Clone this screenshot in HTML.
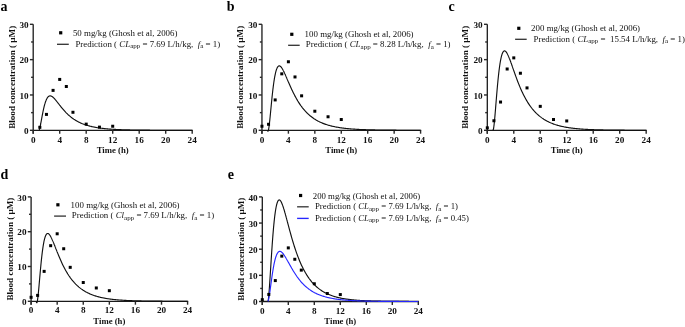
<!DOCTYPE html>
<html><head><meta charset="utf-8"><style>
html,body{margin:0;padding:0;background:#fff;}
body{width:685px;height:327px;overflow:hidden;}
svg{display:block;will-change:transform;}
text{font-family:"Liberation Serif", serif;fill:#111;white-space:pre;}
.tk{font-size:9.2px;font-weight:bold;}
.tt{font-size:8.7px;font-weight:bold;}
.yl{font-size:9.1px;font-weight:bold;}
.pl{font-size:14px;font-weight:bold;fill:#000;}
.lg{font-size:8.9px;}
.lge{font-size:8.75px;}
.sub{font-size:7px;}
</style></head><body>
<svg width="685" height="327" viewBox="0 0 685 327">
<rect width="685" height="327" fill="#fff"/>
<path d="M33.20 24.31 V133.70 M32.60 130.30 H192.80" stroke="#1a1a1a" stroke-width="1.3" fill="none"/>
<path d="M29.90 130.30 H33.20" stroke="#2a2a2a" stroke-width="1.4"/>
<text x="28.60" y="133.90" text-anchor="end" class="tk">0</text>
<path d="M31.10 112.64 H33.20" stroke="#2a2a2a" stroke-width="1.4"/>
<path d="M29.90 94.97 H33.20" stroke="#2a2a2a" stroke-width="1.4"/>
<text x="28.60" y="98.57" text-anchor="end" class="tk">10</text>
<path d="M31.10 77.31 H33.20" stroke="#2a2a2a" stroke-width="1.4"/>
<path d="M29.90 59.64 H33.20" stroke="#2a2a2a" stroke-width="1.4"/>
<text x="28.60" y="63.24" text-anchor="end" class="tk">20</text>
<path d="M31.10 41.98 H33.20" stroke="#2a2a2a" stroke-width="1.4"/>
<path d="M29.90 24.31 H33.20" stroke="#2a2a2a" stroke-width="1.4"/>
<text x="28.60" y="27.91" text-anchor="end" class="tk">30</text>
<path d="M33.20 130.30 V133.70" stroke="#2a2a2a" stroke-width="1.4"/>
<text x="33.20" y="142.80" text-anchor="middle" class="tk">0</text>
<path d="M59.70 130.30 V133.70" stroke="#2a2a2a" stroke-width="1.4"/>
<text x="59.70" y="142.80" text-anchor="middle" class="tk">4</text>
<path d="M86.20 130.30 V133.70" stroke="#2a2a2a" stroke-width="1.4"/>
<text x="86.20" y="142.80" text-anchor="middle" class="tk">8</text>
<path d="M112.70 130.30 V133.70" stroke="#2a2a2a" stroke-width="1.4"/>
<text x="112.70" y="142.80" text-anchor="middle" class="tk">12</text>
<path d="M139.20 130.30 V133.70" stroke="#2a2a2a" stroke-width="1.4"/>
<text x="139.20" y="142.80" text-anchor="middle" class="tk">16</text>
<path d="M165.70 130.30 V133.70" stroke="#2a2a2a" stroke-width="1.4"/>
<text x="165.70" y="142.80" text-anchor="middle" class="tk">20</text>
<path d="M192.20 130.30 V133.70" stroke="#2a2a2a" stroke-width="1.4"/>
<text x="192.20" y="142.80" text-anchor="middle" class="tk">24</text>
<text x="112.70" y="153.40" text-anchor="middle" class="tt">Time (h)</text>
<text transform="translate(14.60 77.31) rotate(-90)" text-anchor="middle" class="yl">Blood concentration ( µM)</text>
<text x="0.4" y="11.1" class="pl">a</text>
<polyline points="39.10,130.30 39.20,130.04 39.31,129.76 39.41,129.44 39.52,129.10 39.62,128.73 39.72,128.33 39.83,127.92 39.93,127.48 40.03,127.03 40.14,126.56 40.24,126.08 40.34,125.58 40.45,125.07 40.55,124.55 40.65,124.02 40.76,123.49 40.86,122.94 40.96,122.40 41.07,121.84 41.17,121.29 41.27,120.73 41.38,120.17 41.48,119.60 41.59,119.04 41.69,118.48 41.79,117.92 41.90,117.36 42.00,116.80 42.10,116.25 42.21,115.70 42.31,115.16 42.41,114.62 42.52,114.08 42.62,113.55 42.72,113.02 42.83,112.50 42.93,111.99 43.03,111.49 43.14,110.99 43.24,110.50 43.35,110.01 43.45,109.54 43.55,109.07 43.66,108.61 43.76,108.15 43.86,107.71 43.97,107.27 44.07,106.85 44.17,106.43 44.28,106.02 44.38,105.62 44.48,105.23 44.59,104.84 44.69,104.47 44.79,104.10 44.90,103.75 45.00,103.40 45.10,103.06 45.21,102.73 45.31,102.41 45.42,102.10 45.52,101.79 45.62,101.50 45.73,101.21 45.83,100.93 45.93,100.67 46.04,100.41 46.14,100.15 46.24,99.91 46.35,99.67 46.45,99.45 46.55,99.23 46.66,99.02 46.76,98.81 46.86,98.62 46.97,98.43 47.07,98.25 47.18,98.08 47.28,97.92 47.38,97.76 47.49,97.61 47.59,97.47 47.69,97.33 47.80,97.20 47.90,97.08 48.00,96.96 48.11,96.85 48.21,96.75 48.31,96.65 48.42,96.56 48.52,96.48 48.62,96.40 48.73,96.33 48.83,96.27 48.93,96.21 49.04,96.15 49.14,96.10 49.25,96.06 49.35,96.02 49.45,95.99 49.56,95.96 49.66,95.93 49.76,95.92 49.87,95.90 49.97,95.89 50.07,95.89 50.18,95.89 50.28,95.89 50.38,95.90 50.49,95.91 50.59,95.93 50.69,95.95 50.80,95.98 50.90,96.01 51.00,96.04 51.11,96.07 51.21,96.11 51.32,96.16 51.42,96.20 51.52,96.25 51.63,96.30 51.73,96.36 51.83,96.42 51.94,96.48 52.04,96.54 52.14,96.61 52.25,96.68 52.35,96.75 52.45,96.83 52.56,96.90 52.66,96.98 52.76,97.07 52.87,97.15 52.97,97.24 53.08,97.32 53.18,97.42 53.28,97.51 53.39,97.60 53.49,97.70 53.59,97.80 53.70,97.90 53.80,98.00 53.90,98.10 54.01,98.21 54.11,98.31 54.21,98.42 54.32,98.53 54.42,98.64 54.52,98.75 54.63,98.87 54.73,98.98 54.83,99.10 54.94,99.21 55.04,99.33 55.15,99.45 55.25,99.57 55.35,99.69 55.46,99.81 55.56,99.94 55.66,100.06 55.77,100.18 55.87,100.31 55.97,100.43 56.08,100.56 56.18,100.69 56.28,100.81 56.39,100.94 56.49,101.07 56.59,101.20 56.70,101.33 56.80,101.46 56.91,101.59 57.01,101.72 57.11,101.85 57.22,101.98 57.32,102.12 57.42,102.25 57.53,102.38 57.63,102.51 57.73,102.65 57.84,102.78 57.94,102.91 58.04,103.05 58.15,103.18 58.25,103.31 58.35,103.45 58.46,103.58 58.56,103.71 58.66,103.85 58.77,103.98 58.87,104.11 58.98,104.25 59.08,104.38 59.18,104.51 59.29,104.65 59.39,104.78 59.49,104.91 59.60,105.04 59.70,105.18 59.83,105.35 60.50,106.19 61.16,107.02 61.83,107.84 62.49,108.64 63.16,109.43 63.82,110.19 64.49,110.94 65.15,111.66 65.82,112.36 66.48,113.04 67.15,113.70 67.81,114.34 68.48,114.95 69.14,115.55 69.81,116.12 70.48,116.68 71.14,117.21 71.81,117.72 72.47,118.22 73.14,118.69 73.80,119.15 74.47,119.59 75.13,120.01 75.80,120.42 76.46,120.81 77.13,121.19 77.79,121.55 78.46,121.90 79.12,122.23 79.79,122.56 80.45,122.86 81.12,123.16 81.78,123.45 82.45,123.72 83.11,123.98 83.78,124.23 84.44,124.48 85.11,124.71 85.77,124.93 86.44,125.15 87.10,125.35 87.77,125.55 88.43,125.74 89.10,125.92 89.76,126.10 90.43,126.26 91.10,126.42 91.76,126.58 92.43,126.73 93.09,126.87 93.76,127.01 94.42,127.14 95.09,127.27 95.75,127.39 96.42,127.50 97.08,127.62 97.75,127.72 98.41,127.83 99.08,127.92 99.74,128.02 100.41,128.11 101.07,128.20 101.74,128.28 102.40,128.36 103.07,128.44 103.73,128.51 104.40,128.59 105.06,128.65 105.73,128.72 106.39,128.78 107.06,128.84 107.72,128.90 108.39,128.96 109.05,129.01 109.72,129.06 110.38,129.11 111.05,129.16 111.72,129.21 112.38,129.25 113.05,129.29 113.71,129.33 114.38,129.37 115.04,129.41 115.71,129.44 116.37,129.48 117.04,129.51 117.70,129.54 118.37,129.57 119.03,129.60 119.70,129.63 120.36,129.66 121.03,129.68 121.69,129.71 122.36,129.73 123.02,129.75 123.69,129.77 124.35,129.80 125.02,129.82 125.68,129.84 126.35,129.85 127.01,129.87 127.68,129.89 128.34,129.91 129.01,129.92 129.67,129.94 130.34,129.95 131.00,129.96 131.67,129.98 132.34,129.99 133.00,130.00 133.67,130.02 134.33,130.03 135.00,130.04 135.66,130.05 136.33,130.06 136.99,130.07 137.66,130.08 138.32,130.09 138.99,130.09 139.65,130.10 140.32,130.11 140.98,130.12 141.65,130.13 142.31,130.13 142.98,130.14 143.64,130.15 144.31,130.15 144.97,130.16 145.64,130.16 146.30,130.17 146.97,130.17 147.63,130.18 148.30,130.18 148.96,130.19 149.63,130.19 150.29,130.20 150.96,130.20 151.63,130.21 152.29,130.21 152.96,130.21 153.62,130.22 154.29,130.22 154.95,130.22 155.62,130.23 156.28,130.23 156.95,130.23 157.61,130.23 158.28,130.24 158.94,130.24 159.61,130.24 160.27,130.24 160.94,130.25 161.60,130.25 162.27,130.25 162.93,130.25 163.60,130.25 164.26,130.26 164.93,130.26 165.59,130.26 166.26,130.26 166.92,130.26 167.59,130.26 168.25,130.27 168.92,130.27 169.58,130.27 170.25,130.27 170.91,130.27 171.58,130.27 172.25,130.27 172.91,130.27 173.58,130.28 174.24,130.28 174.91,130.28 175.57,130.28 176.24,130.28 176.90,130.28 177.57,130.28 178.23,130.28 178.90,130.28 179.56,130.28 180.23,130.28 180.89,130.28 181.56,130.28 182.22,130.29 182.89,130.29 183.55,130.29 184.22,130.29 184.88,130.29 185.55,130.29 186.21,130.29 186.88,130.29 187.54,130.29 188.21,130.29 188.87,130.29 189.54,130.29 190.20,130.29 190.87,130.29 191.53,130.29 192.20,130.29" fill="none" stroke="#111" stroke-width="1.15" stroke-linejoin="round"/>
<rect x="38.33" y="125.80" width="3" height="3" fill="#000"/>
<rect x="44.95" y="112.90" width="3" height="3" fill="#000"/>
<rect x="51.58" y="88.88" width="3" height="3" fill="#000"/>
<rect x="58.20" y="77.92" width="3" height="3" fill="#000"/>
<rect x="64.83" y="84.99" width="3" height="3" fill="#000"/>
<rect x="71.45" y="110.78" width="3" height="3" fill="#000"/>
<rect x="84.70" y="122.62" width="3" height="3" fill="#000"/>
<rect x="97.95" y="125.62" width="3" height="3" fill="#000"/>
<rect x="111.20" y="124.74" width="3" height="3" fill="#000"/>
<rect x="59.10" y="31.20" width="3.2" height="3.2" fill="#000"/>
<text x="72.9" y="35.8" class="lg">50 mg/kg (Ghosh et al, 2006)</text>
<path d="M57 44.3 H68.8" stroke="#3a3a3a" stroke-width="1.35"/>
<text x="75.4" y="46.6" class="lg">Prediction ( <tspan font-style="italic">CL</tspan><tspan class="sub" dy="1.6">app</tspan><tspan dy="-1.6"> = 7.69 L/h/kg,  </tspan><tspan font-style="italic">f</tspan><tspan class="sub" dy="1.6">a</tspan><tspan dy="-1.6"> = 1)</tspan></text>
<path d="M261.95 24.31 V133.70 M261.35 130.30 H421.19" stroke="#1a1a1a" stroke-width="1.3" fill="none"/>
<path d="M258.65 130.30 H261.95" stroke="#2a2a2a" stroke-width="1.4"/>
<text x="257.35" y="133.90" text-anchor="end" class="tk">0</text>
<path d="M259.85 112.64 H261.95" stroke="#2a2a2a" stroke-width="1.4"/>
<path d="M258.65 94.97 H261.95" stroke="#2a2a2a" stroke-width="1.4"/>
<text x="257.35" y="98.57" text-anchor="end" class="tk">10</text>
<path d="M259.85 77.31 H261.95" stroke="#2a2a2a" stroke-width="1.4"/>
<path d="M258.65 59.64 H261.95" stroke="#2a2a2a" stroke-width="1.4"/>
<text x="257.35" y="63.24" text-anchor="end" class="tk">20</text>
<path d="M259.85 41.98 H261.95" stroke="#2a2a2a" stroke-width="1.4"/>
<path d="M258.65 24.31 H261.95" stroke="#2a2a2a" stroke-width="1.4"/>
<text x="257.35" y="27.91" text-anchor="end" class="tk">30</text>
<path d="M261.95 130.30 V133.70" stroke="#2a2a2a" stroke-width="1.4"/>
<text x="261.95" y="142.80" text-anchor="middle" class="tk">0</text>
<path d="M288.39 130.30 V133.70" stroke="#2a2a2a" stroke-width="1.4"/>
<text x="288.39" y="142.80" text-anchor="middle" class="tk">4</text>
<path d="M314.83 130.30 V133.70" stroke="#2a2a2a" stroke-width="1.4"/>
<text x="314.83" y="142.80" text-anchor="middle" class="tk">8</text>
<path d="M341.27 130.30 V133.70" stroke="#2a2a2a" stroke-width="1.4"/>
<text x="341.27" y="142.80" text-anchor="middle" class="tk">12</text>
<path d="M367.71 130.30 V133.70" stroke="#2a2a2a" stroke-width="1.4"/>
<text x="367.71" y="142.80" text-anchor="middle" class="tk">16</text>
<path d="M394.15 130.30 V133.70" stroke="#2a2a2a" stroke-width="1.4"/>
<text x="394.15" y="142.80" text-anchor="middle" class="tk">20</text>
<path d="M420.59 130.30 V133.70" stroke="#2a2a2a" stroke-width="1.4"/>
<text x="420.59" y="142.80" text-anchor="middle" class="tk">24</text>
<text x="341.27" y="153.40" text-anchor="middle" class="tt">Time (h)</text>
<text transform="translate(243.00 77.31) rotate(-90)" text-anchor="middle" class="yl">Blood concentration ( µM)</text>
<text x="226.8" y="11.3" class="pl">b</text>
<polyline points="267.51,130.30 267.62,130.71 267.72,131.00 267.83,131.16 267.93,131.21 268.04,131.16 268.14,131.01 268.25,130.77 268.35,130.44 268.46,130.03 268.56,129.55 268.67,129.01 268.77,128.40 268.88,127.73 268.98,127.01 269.09,126.24 269.19,125.43 269.30,124.57 269.40,123.68 269.51,122.76 269.61,121.81 269.72,120.83 269.82,119.83 269.93,118.81 270.03,117.77 270.14,116.72 270.24,115.66 270.35,114.58 270.45,113.50 270.56,112.41 270.66,111.32 270.77,110.22 270.87,109.13 270.98,108.03 271.08,106.94 271.19,105.85 271.29,104.77 271.39,103.69 271.50,102.63 271.60,101.57 271.71,100.52 271.81,99.48 271.92,98.45 272.02,97.43 272.13,96.43 272.23,95.44 272.34,94.46 272.44,93.50 272.55,92.56 272.65,91.63 272.76,90.71 272.86,89.81 272.97,88.93 273.07,88.07 273.18,87.22 273.28,86.39 273.39,85.58 273.49,84.79 273.60,84.01 273.70,83.25 273.81,82.51 273.91,81.79 274.02,81.08 274.12,80.40 274.23,79.73 274.33,79.08 274.44,78.45 274.54,77.83 274.65,77.23 274.75,76.66 274.86,76.09 274.96,75.55 275.07,75.02 275.17,74.52 275.28,74.02 275.38,73.55 275.49,73.09 275.59,72.65 275.70,72.22 275.80,71.81 275.91,71.42 276.01,71.04 276.12,70.68 276.22,70.33 276.33,70.00 276.43,69.68 276.54,69.38 276.64,69.09 276.75,68.81 276.85,68.55 276.96,68.31 277.06,68.07 277.16,67.86 277.27,67.65 277.37,67.45 277.48,67.27 277.58,67.10 277.69,66.95 277.79,66.80 277.90,66.67 278.00,66.54 278.11,66.43 278.21,66.33 278.32,66.24 278.42,66.16 278.53,66.09 278.63,66.04 278.74,65.99 278.84,65.95 278.95,65.92 279.05,65.90 279.16,65.88 279.26,65.88 279.37,65.88 279.47,65.90 279.58,65.92 279.68,65.95 279.79,65.98 279.89,66.03 280.00,66.08 280.10,66.14 280.21,66.21 280.31,66.28 280.42,66.36 280.52,66.44 280.63,66.53 280.73,66.63 280.84,66.74 280.94,66.85 281.05,66.96 281.15,67.08 281.26,67.21 281.36,67.34 281.47,67.47 281.57,67.61 281.68,67.76 281.78,67.91 281.89,68.06 281.99,68.22 282.10,68.38 282.20,68.55 282.31,68.72 282.41,68.89 282.52,69.07 282.62,69.25 282.72,69.44 282.83,69.62 282.93,69.82 283.04,70.01 283.14,70.21 283.25,70.41 283.35,70.61 283.46,70.81 283.56,71.02 283.67,71.23 283.77,71.44 283.88,71.65 283.98,71.87 284.09,72.09 284.19,72.31 284.30,72.53 284.40,72.75 284.51,72.98 284.61,73.21 284.72,73.44 284.82,73.67 284.93,73.90 285.03,74.13 285.14,74.36 285.24,74.60 285.35,74.83 285.45,75.07 285.56,75.31 285.66,75.55 285.77,75.79 285.87,76.03 285.98,76.27 286.08,76.51 286.19,76.75 286.29,77.00 286.40,77.24 286.50,77.49 286.61,77.73 286.71,77.97 286.82,78.22 286.92,78.47 287.03,78.71 287.13,78.96 287.24,79.20 287.34,79.45 287.45,79.69 287.55,79.94 287.66,80.19 287.76,80.43 287.87,80.68 287.97,80.93 288.08,81.17 288.18,81.42 288.29,81.66 288.39,81.91 288.52,82.22 289.19,83.76 289.85,85.28 290.51,86.78 291.18,88.25 291.84,89.69 292.50,91.10 293.17,92.47 293.83,93.80 294.50,95.10 295.16,96.36 295.82,97.58 296.49,98.76 297.15,99.91 297.81,101.02 298.48,102.09 299.14,103.12 299.80,104.12 300.47,105.09 301.13,106.02 301.80,106.91 302.46,107.78 303.12,108.61 303.79,109.42 304.45,110.19 305.11,110.94 305.78,111.66 306.44,112.35 307.10,113.02 307.77,113.67 308.43,114.29 309.10,114.88 309.76,115.46 310.42,116.01 311.09,116.55 311.75,117.06 312.41,117.55 313.08,118.03 313.74,118.49 314.40,118.93 315.07,119.35 315.73,119.76 316.40,120.15 317.06,120.53 317.72,120.90 318.39,121.25 319.05,121.59 319.71,121.91 320.38,122.23 321.04,122.53 321.71,122.82 322.37,123.10 323.03,123.37 323.70,123.63 324.36,123.88 325.02,124.12 325.69,124.35 326.35,124.57 327.01,124.78 327.68,124.99 328.34,125.19 329.01,125.38 329.67,125.56 330.33,125.74 331.00,125.91 331.66,126.07 332.32,126.23 332.99,126.38 333.65,126.53 334.31,126.67 334.98,126.81 335.64,126.94 336.31,127.06 336.97,127.18 337.63,127.30 338.30,127.41 338.96,127.52 339.62,127.62 340.29,127.72 340.95,127.82 341.61,127.91 342.28,128.00 342.94,128.09 343.61,128.17 344.27,128.25 344.93,128.33 345.60,128.40 346.26,128.47 346.92,128.54 347.59,128.61 348.25,128.67 348.92,128.73 349.58,128.79 350.24,128.85 350.91,128.90 351.57,128.95 352.23,129.00 352.90,129.05 353.56,129.10 354.22,129.14 354.89,129.19 355.55,129.23 356.22,129.27 356.88,129.31 357.54,129.34 358.21,129.38 358.87,129.41 359.53,129.45 360.20,129.48 360.86,129.51 361.52,129.54 362.19,129.57 362.85,129.59 363.52,129.62 364.18,129.65 364.84,129.67 365.51,129.69 366.17,129.72 366.83,129.74 367.50,129.76 368.16,129.78 368.82,129.80 369.49,129.82 370.15,129.84 370.82,129.85 371.48,129.87 372.14,129.89 372.81,129.90 373.47,129.92 374.13,129.93 374.80,129.94 375.46,129.96 376.12,129.97 376.79,129.98 377.45,129.99 378.12,130.01 378.78,130.02 379.44,130.03 380.11,130.04 380.77,130.05 381.43,130.06 382.10,130.07 382.76,130.07 383.43,130.08 384.09,130.09 384.75,130.10 385.42,130.11 386.08,130.11 386.74,130.12 387.41,130.13 388.07,130.13 388.73,130.14 389.40,130.15 390.06,130.15 390.73,130.16 391.39,130.16 392.05,130.17 392.72,130.17 393.38,130.18 394.04,130.18 394.71,130.19 395.37,130.19 396.03,130.19 396.70,130.20 397.36,130.20 398.03,130.21 398.69,130.21 399.35,130.21 400.02,130.22 400.68,130.22 401.34,130.22 402.01,130.23 402.67,130.23 403.33,130.23 404.00,130.23 404.66,130.24 405.33,130.24 405.99,130.24 406.65,130.24 407.32,130.24 407.98,130.25 408.64,130.25 409.31,130.25 409.97,130.25 410.64,130.25 411.30,130.26 411.96,130.26 412.63,130.26 413.29,130.26 413.95,130.26 414.62,130.26 415.28,130.27 415.94,130.27 416.61,130.27 417.27,130.27 417.94,130.27 418.60,130.27 419.26,130.27 419.93,130.27 420.59,130.27" fill="none" stroke="#111" stroke-width="1.15" stroke-linejoin="round"/>
<rect x="260.45" y="124.74" width="3" height="3" fill="#000"/>
<rect x="267.06" y="122.79" width="3" height="3" fill="#000"/>
<rect x="273.67" y="98.42" width="3" height="3" fill="#000"/>
<rect x="280.28" y="72.34" width="3" height="3" fill="#000"/>
<rect x="286.89" y="60.26" width="3" height="3" fill="#000"/>
<rect x="293.50" y="75.45" width="3" height="3" fill="#000"/>
<rect x="300.11" y="94.32" width="3" height="3" fill="#000"/>
<rect x="313.33" y="109.72" width="3" height="3" fill="#000"/>
<rect x="326.55" y="115.27" width="3" height="3" fill="#000"/>
<rect x="339.77" y="118.02" width="3" height="3" fill="#000"/>
<rect x="290.20" y="32.70" width="3.2" height="3.2" fill="#000"/>
<text x="304.6" y="37.1" class="lg">100 mg/kg (Ghosh et al, 2006)</text>
<path d="M288.1 45.3 H299.7" stroke="#3a3a3a" stroke-width="1.35"/>
<text x="305.8" y="47.4" class="lg">Prediction ( <tspan font-style="italic">CL</tspan><tspan class="sub" dy="1.6">app</tspan><tspan dy="-1.6"> = 8.28 L/h/kg,  </tspan><tspan font-style="italic">f</tspan><tspan class="sub" dy="1.6">a</tspan><tspan dy="-1.6"> = 1)</tspan></text>
<path d="M487.30 24.31 V133.70 M486.70 130.30 H646.78" stroke="#1a1a1a" stroke-width="1.3" fill="none"/>
<path d="M484.00 130.30 H487.30" stroke="#2a2a2a" stroke-width="1.4"/>
<text x="482.70" y="133.90" text-anchor="end" class="tk">0</text>
<path d="M485.20 112.64 H487.30" stroke="#2a2a2a" stroke-width="1.4"/>
<path d="M484.00 94.97 H487.30" stroke="#2a2a2a" stroke-width="1.4"/>
<text x="482.70" y="98.57" text-anchor="end" class="tk">10</text>
<path d="M485.20 77.31 H487.30" stroke="#2a2a2a" stroke-width="1.4"/>
<path d="M484.00 59.64 H487.30" stroke="#2a2a2a" stroke-width="1.4"/>
<text x="482.70" y="63.24" text-anchor="end" class="tk">20</text>
<path d="M485.20 41.98 H487.30" stroke="#2a2a2a" stroke-width="1.4"/>
<path d="M484.00 24.31 H487.30" stroke="#2a2a2a" stroke-width="1.4"/>
<text x="482.70" y="27.91" text-anchor="end" class="tk">30</text>
<path d="M487.30 130.30 V133.70" stroke="#2a2a2a" stroke-width="1.4"/>
<text x="487.30" y="142.80" text-anchor="middle" class="tk">0</text>
<path d="M513.78 130.30 V133.70" stroke="#2a2a2a" stroke-width="1.4"/>
<text x="513.78" y="142.80" text-anchor="middle" class="tk">4</text>
<path d="M540.26 130.30 V133.70" stroke="#2a2a2a" stroke-width="1.4"/>
<text x="540.26" y="142.80" text-anchor="middle" class="tk">8</text>
<path d="M566.74 130.30 V133.70" stroke="#2a2a2a" stroke-width="1.4"/>
<text x="566.74" y="142.80" text-anchor="middle" class="tk">12</text>
<path d="M593.22 130.30 V133.70" stroke="#2a2a2a" stroke-width="1.4"/>
<text x="593.22" y="142.80" text-anchor="middle" class="tk">16</text>
<path d="M619.70 130.30 V133.70" stroke="#2a2a2a" stroke-width="1.4"/>
<text x="619.70" y="142.80" text-anchor="middle" class="tk">20</text>
<path d="M646.18 130.30 V133.70" stroke="#2a2a2a" stroke-width="1.4"/>
<text x="646.18" y="142.80" text-anchor="middle" class="tk">24</text>
<text x="566.74" y="153.40" text-anchor="middle" class="tt">Time (h)</text>
<text transform="translate(468.20 77.31) rotate(-90)" text-anchor="middle" class="yl">Blood concentration ( µM)</text>
<text x="448.5" y="11.3" class="pl">c</text>
<polyline points="493.07,130.30 493.17,130.10 493.28,129.79 493.38,129.40 493.48,128.91 493.59,128.34 493.69,127.70 493.80,126.99 493.90,126.21 494.00,125.37 494.11,124.48 494.21,123.54 494.32,122.55 494.42,121.52 494.53,120.45 494.63,119.35 494.73,118.21 494.84,117.05 494.94,115.87 495.05,114.66 495.15,113.44 495.25,112.20 495.36,110.95 495.46,109.68 495.57,108.41 495.67,107.13 495.77,105.85 495.88,104.57 495.98,103.28 496.09,102.00 496.19,100.72 496.29,99.45 496.40,98.18 496.50,96.92 496.61,95.66 496.71,94.42 496.81,93.18 496.92,91.96 497.02,90.75 497.13,89.56 497.23,88.38 497.34,87.21 497.44,86.06 497.54,84.92 497.65,83.80 497.75,82.70 497.86,81.62 497.96,80.56 498.06,79.51 498.17,78.48 498.27,77.47 498.38,76.49 498.48,75.52 498.58,74.57 498.69,73.64 498.79,72.73 498.90,71.84 499.00,70.97 499.10,70.13 499.21,69.30 499.31,68.49 499.42,67.71 499.52,66.94 499.63,66.20 499.73,65.47 499.83,64.77 499.94,64.08 500.04,63.42 500.15,62.77 500.25,62.15 500.35,61.54 500.46,60.96 500.56,60.39 500.67,59.84 500.77,59.31 500.87,58.80 500.98,58.31 501.08,57.84 501.19,57.38 501.29,56.95 501.39,56.53 501.50,56.12 501.60,55.74 501.71,55.37 501.81,55.02 501.91,54.68 502.02,54.36 502.12,54.06 502.23,53.77 502.33,53.50 502.44,53.24 502.54,53.00 502.64,52.77 502.75,52.56 502.85,52.36 502.96,52.18 503.06,52.01 503.16,51.85 503.27,51.70 503.37,51.57 503.48,51.45 503.58,51.34 503.68,51.25 503.79,51.17 503.89,51.09 504.00,51.03 504.10,50.98 504.20,50.95 504.31,50.92 504.41,50.90 504.52,50.90 504.62,50.90 504.73,50.91 504.83,50.93 504.93,50.96 505.04,51.01 505.14,51.05 505.25,51.11 505.35,51.18 505.45,51.25 505.56,51.34 505.66,51.43 505.77,51.53 505.87,51.63 505.97,51.74 506.08,51.86 506.18,51.99 506.29,52.13 506.39,52.27 506.49,52.41 506.60,52.56 506.70,52.72 506.81,52.89 506.91,53.06 507.01,53.23 507.12,53.41 507.22,53.60 507.33,53.79 507.43,53.98 507.54,54.19 507.64,54.39 507.74,54.60 507.85,54.81 507.95,55.03 508.06,55.25 508.16,55.48 508.26,55.71 508.37,55.94 508.47,56.18 508.58,56.42 508.68,56.66 508.78,56.91 508.89,57.15 508.99,57.41 509.10,57.66 509.20,57.92 509.30,58.18 509.41,58.44 509.51,58.71 509.62,58.97 509.72,59.24 509.82,59.51 509.93,59.79 510.03,60.06 510.14,60.34 510.24,60.62 510.35,60.90 510.45,61.18 510.55,61.46 510.66,61.75 510.76,62.03 510.87,62.32 510.97,62.61 511.07,62.90 511.18,63.19 511.28,63.48 511.39,63.78 511.49,64.07 511.59,64.36 511.70,64.66 511.80,64.95 511.91,65.25 512.01,65.55 512.11,65.84 512.22,66.14 512.32,66.44 512.43,66.74 512.53,67.03 512.64,67.33 512.74,67.63 512.84,67.93 512.95,68.23 513.05,68.53 513.16,68.83 513.26,69.13 513.36,69.42 513.47,69.72 513.57,70.02 513.68,70.32 513.78,70.62 513.91,71.00 514.58,72.89 515.24,74.76 515.91,76.60 516.57,78.42 517.24,80.19 517.90,81.93 518.57,83.62 519.23,85.27 519.89,86.87 520.56,88.43 521.22,89.94 521.89,91.41 522.55,92.82 523.22,94.20 523.88,95.52 524.55,96.80 525.21,98.04 525.88,99.24 526.54,100.39 527.21,101.50 527.87,102.58 528.53,103.61 529.20,104.61 529.86,105.57 530.53,106.50 531.19,107.39 531.86,108.25 532.52,109.08 533.19,109.87 533.85,110.64 534.52,111.38 535.18,112.09 535.85,112.78 536.51,113.44 537.18,114.07 537.84,114.68 538.50,115.27 539.17,115.84 539.83,116.38 540.50,116.90 541.16,117.41 541.83,117.90 542.49,118.36 543.16,118.81 543.82,119.25 544.49,119.66 545.15,120.06 545.82,120.45 546.48,120.82 547.15,121.18 547.81,121.52 548.47,121.85 549.14,122.17 549.80,122.48 550.47,122.77 551.13,123.06 551.80,123.33 552.46,123.59 553.13,123.84 553.79,124.09 554.46,124.32 555.12,124.55 555.79,124.76 556.45,124.97 557.12,125.17 557.78,125.37 558.44,125.55 559.11,125.73 559.77,125.90 560.44,126.07 561.10,126.23 561.77,126.38 562.43,126.53 563.10,126.67 563.76,126.81 564.43,126.94 565.09,127.07 565.76,127.19 566.42,127.31 567.09,127.42 567.75,127.53 568.41,127.63 569.08,127.73 569.74,127.83 570.41,127.92 571.07,128.01 571.74,128.10 572.40,128.18 573.07,128.26 573.73,128.34 574.40,128.41 575.06,128.48 575.73,128.55 576.39,128.62 577.06,128.68 577.72,128.74 578.38,128.80 579.05,128.86 579.71,128.91 580.38,128.96 581.04,129.02 581.71,129.06 582.37,129.11 583.04,129.16 583.70,129.20 584.37,129.24 585.03,129.28 585.70,129.32 586.36,129.36 587.03,129.39 587.69,129.43 588.35,129.46 589.02,129.49 589.68,129.52 590.35,129.55 591.01,129.58 591.68,129.61 592.34,129.63 593.01,129.66 593.67,129.68 594.34,129.70 595.00,129.73 595.67,129.75 596.33,129.77 597.00,129.79 597.66,129.81 598.32,129.83 598.99,129.84 599.65,129.86 600.32,129.88 600.98,129.89 601.65,129.91 602.31,129.92 602.98,129.94 603.64,129.95 604.31,129.97 604.97,129.98 605.64,129.99 606.30,130.00 606.96,130.01 607.63,130.02 608.29,130.03 608.96,130.04 609.62,130.05 610.29,130.06 610.95,130.07 611.62,130.08 612.28,130.09 612.95,130.10 613.61,130.10 614.28,130.11 614.94,130.12 615.61,130.13 616.27,130.13 616.93,130.14 617.60,130.14 618.26,130.15 618.93,130.16 619.59,130.16 620.26,130.17 620.92,130.17 621.59,130.18 622.25,130.18 622.92,130.19 623.58,130.19 624.25,130.19 624.91,130.20 625.58,130.20 626.24,130.21 626.90,130.21 627.57,130.21 628.23,130.22 628.90,130.22 629.56,130.22 630.23,130.23 630.89,130.23 631.56,130.23 632.22,130.23 632.89,130.24 633.55,130.24 634.22,130.24 634.88,130.24 635.55,130.25 636.21,130.25 636.87,130.25 637.54,130.25 638.20,130.25 638.87,130.25 639.53,130.26 640.20,130.26 640.86,130.26 641.53,130.26 642.19,130.26 642.86,130.26 643.52,130.27 644.19,130.27 644.85,130.27 645.52,130.27 646.18,130.27" fill="none" stroke="#111" stroke-width="1.15" stroke-linejoin="round"/>
<rect x="485.80" y="126.33" width="3" height="3" fill="#000"/>
<rect x="492.42" y="119.26" width="3" height="3" fill="#000"/>
<rect x="499.04" y="100.54" width="3" height="3" fill="#000"/>
<rect x="505.66" y="67.50" width="3" height="3" fill="#000"/>
<rect x="512.28" y="56.37" width="3" height="3" fill="#000"/>
<rect x="518.90" y="71.74" width="3" height="3" fill="#000"/>
<rect x="525.52" y="86.40" width="3" height="3" fill="#000"/>
<rect x="538.76" y="104.85" width="3" height="3" fill="#000"/>
<rect x="552.00" y="118.02" width="3" height="3" fill="#000"/>
<rect x="565.24" y="119.44" width="3" height="3" fill="#000"/>
<rect x="517.20" y="26.70" width="3.2" height="3.2" fill="#000"/>
<text x="531.1" y="31.3" class="lg">200 mg/kg (Ghosh et al, 2006)</text>
<path d="M515.1 39.3 H526.7" stroke="#3a3a3a" stroke-width="1.35"/>
<text x="533.5" y="41.6" class="lg">Prediction ( <tspan font-style="italic">CL</tspan><tspan class="sub" dy="1.6">app</tspan><tspan dy="-1.6"> =  15.54 L/h/kg,  </tspan><tspan font-style="italic">f</tspan><tspan class="sub" dy="1.6">a</tspan><tspan dy="-1.6"> = 1)</tspan></text>
<path d="M31.10 196.90 V304.70 M30.50 301.30 H188.18" stroke="#1a1a1a" stroke-width="1.3" fill="none"/>
<path d="M27.80 301.30 H31.10" stroke="#2a2a2a" stroke-width="1.4"/>
<text x="26.50" y="304.90" text-anchor="end" class="tk">0</text>
<path d="M29.00 283.90 H31.10" stroke="#2a2a2a" stroke-width="1.4"/>
<path d="M27.80 266.50 H31.10" stroke="#2a2a2a" stroke-width="1.4"/>
<text x="26.50" y="270.10" text-anchor="end" class="tk">10</text>
<path d="M29.00 249.10 H31.10" stroke="#2a2a2a" stroke-width="1.4"/>
<path d="M27.80 231.70 H31.10" stroke="#2a2a2a" stroke-width="1.4"/>
<text x="26.50" y="235.30" text-anchor="end" class="tk">20</text>
<path d="M29.00 214.30 H31.10" stroke="#2a2a2a" stroke-width="1.4"/>
<path d="M27.80 196.90 H31.10" stroke="#2a2a2a" stroke-width="1.4"/>
<text x="26.50" y="200.50" text-anchor="end" class="tk">30</text>
<path d="M31.10 301.30 V304.70" stroke="#2a2a2a" stroke-width="1.4"/>
<text x="31.10" y="313.30" text-anchor="middle" class="tk">0</text>
<path d="M57.18 301.30 V304.70" stroke="#2a2a2a" stroke-width="1.4"/>
<text x="57.18" y="313.30" text-anchor="middle" class="tk">4</text>
<path d="M83.26 301.30 V304.70" stroke="#2a2a2a" stroke-width="1.4"/>
<text x="83.26" y="313.30" text-anchor="middle" class="tk">8</text>
<path d="M109.34 301.30 V304.70" stroke="#2a2a2a" stroke-width="1.4"/>
<text x="109.34" y="313.30" text-anchor="middle" class="tk">12</text>
<path d="M135.42 301.30 V304.70" stroke="#2a2a2a" stroke-width="1.4"/>
<text x="135.42" y="313.30" text-anchor="middle" class="tk">16</text>
<path d="M161.50 301.30 V304.70" stroke="#2a2a2a" stroke-width="1.4"/>
<text x="161.50" y="313.30" text-anchor="middle" class="tk">20</text>
<path d="M187.58 301.30 V304.70" stroke="#2a2a2a" stroke-width="1.4"/>
<text x="187.58" y="313.30" text-anchor="middle" class="tk">24</text>
<text x="109.34" y="323.70" text-anchor="middle" class="tt">Time (h)</text>
<text transform="translate(13.00 249.10) rotate(-90)" text-anchor="middle" class="yl">Blood concentration ( µM)</text>
<text x="0.5" y="179.4" class="pl">d</text>
<polyline points="36.26,301.30 36.36,301.89 36.47,302.32 36.57,302.61 36.68,302.77 36.78,302.79 36.89,302.70 36.99,302.50 37.10,302.19 37.20,301.80 37.31,301.31 37.41,300.75 37.52,300.10 37.62,299.40 37.73,298.63 37.83,297.80 37.94,296.92 38.05,295.99 38.15,295.02 38.26,294.01 38.36,292.97 38.47,291.89 38.57,290.79 38.68,289.67 38.78,288.53 38.89,287.37 38.99,286.20 39.10,285.01 39.20,283.82 39.31,282.62 39.41,281.42 39.52,280.21 39.62,279.00 39.73,277.80 39.83,276.60 39.94,275.40 40.04,274.22 40.15,273.04 40.25,271.86 40.36,270.70 40.46,269.56 40.57,268.42 40.67,267.30 40.78,266.19 40.88,265.10 40.99,264.02 41.09,262.96 41.20,261.91 41.30,260.89 41.41,259.88 41.51,258.89 41.62,257.92 41.73,256.97 41.83,256.04 41.94,255.13 42.04,254.24 42.15,253.37 42.25,252.52 42.36,251.69 42.46,250.88 42.57,250.10 42.67,249.33 42.78,248.58 42.88,247.86 42.99,247.15 43.09,246.46 43.20,245.80 43.30,245.16 43.41,244.53 43.51,243.93 43.62,243.34 43.72,242.78 43.83,242.23 43.93,241.70 44.04,241.20 44.14,240.71 44.25,240.24 44.35,239.79 44.46,239.35 44.56,238.94 44.67,238.54 44.77,238.16 44.88,237.80 44.98,237.45 45.09,237.12 45.19,236.81 45.30,236.51 45.40,236.23 45.51,235.96 45.62,235.71 45.72,235.48 45.83,235.25 45.93,235.05 46.04,234.85 46.14,234.68 46.25,234.51 46.35,234.36 46.46,234.22 46.56,234.09 46.67,233.98 46.77,233.88 46.88,233.79 46.98,233.71 47.09,233.64 47.19,233.59 47.30,233.54 47.40,233.51 47.51,233.48 47.61,233.47 47.72,233.46 47.82,233.47 47.93,233.49 48.03,233.51 48.14,233.54 48.24,233.58 48.35,233.63 48.45,233.69 48.56,233.76 48.66,233.83 48.77,233.92 48.87,234.01 48.98,234.10 49.08,234.20 49.19,234.31 49.29,234.43 49.40,234.55 49.51,234.68 49.61,234.82 49.72,234.96 49.82,235.11 49.93,235.26 50.03,235.42 50.14,235.58 50.24,235.75 50.35,235.92 50.45,236.09 50.56,236.28 50.66,236.46 50.77,236.65 50.87,236.85 50.98,237.04 51.08,237.25 51.19,237.45 51.29,237.66 51.40,237.87 51.50,238.09 51.61,238.30 51.71,238.53 51.82,238.75 51.92,238.98 52.03,239.21 52.13,239.44 52.24,239.67 52.34,239.91 52.45,240.15 52.55,240.39 52.66,240.63 52.76,240.88 52.87,241.13 52.97,241.37 53.08,241.62 53.18,241.88 53.29,242.13 53.40,242.38 53.50,242.64 53.61,242.90 53.71,243.15 53.82,243.41 53.92,243.67 54.03,243.94 54.13,244.20 54.24,244.46 54.34,244.72 54.45,244.99 54.55,245.25 54.66,245.52 54.76,245.78 54.87,246.05 54.97,246.32 55.08,246.58 55.18,246.85 55.29,247.12 55.39,247.39 55.50,247.66 55.60,247.92 55.71,248.19 55.81,248.46 55.92,248.73 56.02,249.00 56.13,249.26 56.23,249.53 56.34,249.80 56.44,250.06 56.55,250.33 56.65,250.60 56.76,250.86 56.86,251.13 56.97,251.40 57.07,251.66 57.18,251.92 57.31,252.25 57.97,253.88 58.62,255.49 59.27,257.06 59.93,258.60 60.58,260.10 61.24,261.57 61.89,262.99 62.55,264.38 63.20,265.72 63.86,267.02 64.51,268.28 65.17,269.50 65.82,270.67 66.48,271.81 67.13,272.91 67.78,273.97 68.44,274.99 69.09,275.98 69.75,276.93 70.40,277.84 71.06,278.72 71.71,279.57 72.37,280.39 73.02,281.18 73.68,281.94 74.33,282.67 74.99,283.37 75.64,284.05 76.29,284.70 76.95,285.33 77.60,285.94 78.26,286.52 78.91,287.08 79.57,287.61 80.22,288.13 80.88,288.63 81.53,289.11 82.19,289.57 82.84,290.02 83.50,290.44 84.15,290.86 84.80,291.25 85.46,291.63 86.11,292.00 86.77,292.35 87.42,292.69 88.08,293.02 88.73,293.33 89.39,293.63 90.04,293.92 90.70,294.20 91.35,294.47 92.01,294.73 92.66,294.98 93.31,295.22 93.97,295.45 94.62,295.67 95.28,295.88 95.93,296.09 96.59,296.29 97.24,296.48 97.90,296.66 98.55,296.83 99.21,297.00 99.86,297.17 100.52,297.32 101.17,297.47 101.82,297.62 102.48,297.76 103.13,297.89 103.79,298.02 104.44,298.15 105.10,298.27 105.75,298.38 106.41,298.49 107.06,298.60 107.72,298.70 108.37,298.80 109.03,298.89 109.68,298.98 110.33,299.07 110.99,299.16 111.64,299.24 112.30,299.32 112.95,299.39 113.61,299.46 114.26,299.53 114.92,299.60 115.57,299.66 116.23,299.73 116.88,299.79 117.54,299.84 118.19,299.90 118.84,299.95 119.50,300.00 120.15,300.05 120.81,300.10 121.46,300.14 122.12,300.19 122.77,300.23 123.43,300.27 124.08,300.31 124.74,300.35 125.39,300.38 126.05,300.42 126.70,300.45 127.35,300.48 128.01,300.51 128.66,300.54 129.32,300.57 129.97,300.60 130.63,300.63 131.28,300.65 131.94,300.68 132.59,300.70 133.25,300.72 133.90,300.75 134.56,300.77 135.21,300.79 135.86,300.81 136.52,300.82 137.17,300.84 137.83,300.86 138.48,300.88 139.14,300.89 139.79,300.91 140.45,300.92 141.10,300.94 141.76,300.95 142.41,300.96 143.07,300.98 143.72,300.99 144.38,301.00 145.03,301.01 145.68,301.02 146.34,301.03 146.99,301.04 147.65,301.05 148.30,301.06 148.96,301.07 149.61,301.08 150.27,301.09 150.92,301.10 151.58,301.10 152.23,301.11 152.89,301.12 153.54,301.13 154.19,301.13 154.85,301.14 155.50,301.14 156.16,301.15 156.81,301.16 157.47,301.16 158.12,301.17 158.78,301.17 159.43,301.18 160.09,301.18 160.74,301.19 161.40,301.19 162.05,301.19 162.70,301.20 163.36,301.20 164.01,301.21 164.67,301.21 165.32,301.21 165.98,301.22 166.63,301.22 167.29,301.22 167.94,301.23 168.60,301.23 169.25,301.23 169.91,301.23 170.56,301.24 171.21,301.24 171.87,301.24 172.52,301.24 173.18,301.25 173.83,301.25 174.49,301.25 175.14,301.25 175.80,301.25 176.45,301.25 177.11,301.26 177.76,301.26 178.42,301.26 179.07,301.26 179.72,301.26 180.38,301.26 181.03,301.27 181.69,301.27 182.34,301.27 183.00,301.27 183.65,301.27 184.31,301.27 184.96,301.27 185.62,301.27 186.27,301.27 186.93,301.28 187.58,301.28" fill="none" stroke="#111" stroke-width="1.15" stroke-linejoin="round"/>
<rect x="29.60" y="295.80" width="3" height="3" fill="#000"/>
<rect x="36.12" y="293.88" width="3" height="3" fill="#000"/>
<rect x="42.64" y="269.87" width="3" height="3" fill="#000"/>
<rect x="49.16" y="244.19" width="3" height="3" fill="#000"/>
<rect x="55.68" y="232.29" width="3" height="3" fill="#000"/>
<rect x="62.20" y="247.25" width="3" height="3" fill="#000"/>
<rect x="68.72" y="265.84" width="3" height="3" fill="#000"/>
<rect x="81.76" y="281.01" width="3" height="3" fill="#000"/>
<rect x="94.80" y="286.47" width="3" height="3" fill="#000"/>
<rect x="107.84" y="289.19" width="3" height="3" fill="#000"/>
<rect x="56.30" y="203.20" width="3.2" height="3.2" fill="#000"/>
<text x="70.6" y="207.8" class="lg">100 mg/kg (Ghosh et al, 2006)</text>
<path d="M54.1 216.1 H66" stroke="#3a3a3a" stroke-width="1.35"/>
<text x="71.8" y="217.9" class="lg">Prediction ( <tspan font-style="italic">Cl</tspan><tspan class="sub" dy="1.6">app</tspan><tspan dy="-1.6"> = 7.69 L/h/kg,  </tspan><tspan font-style="italic">f</tspan><tspan class="sub" dy="1.6">a</tspan><tspan dy="-1.6"> = 1)</tspan></text>
<path d="M262.30 196.90 V304.90 M261.70 301.50 H418.90" stroke="#1a1a1a" stroke-width="1.3" fill="none"/>
<path d="M259.00 301.50 H262.30" stroke="#2a2a2a" stroke-width="1.4"/>
<text x="257.70" y="305.10" text-anchor="end" class="tk">0</text>
<path d="M260.20 288.43 H262.30" stroke="#2a2a2a" stroke-width="1.4"/>
<path d="M259.00 275.35 H262.30" stroke="#2a2a2a" stroke-width="1.4"/>
<text x="257.70" y="278.95" text-anchor="end" class="tk">10</text>
<path d="M260.20 262.27 H262.30" stroke="#2a2a2a" stroke-width="1.4"/>
<path d="M259.00 249.20 H262.30" stroke="#2a2a2a" stroke-width="1.4"/>
<text x="257.70" y="252.80" text-anchor="end" class="tk">20</text>
<path d="M260.20 236.12 H262.30" stroke="#2a2a2a" stroke-width="1.4"/>
<path d="M259.00 223.05 H262.30" stroke="#2a2a2a" stroke-width="1.4"/>
<text x="257.70" y="226.65" text-anchor="end" class="tk">30</text>
<path d="M260.20 209.97 H262.30" stroke="#2a2a2a" stroke-width="1.4"/>
<path d="M259.00 196.90 H262.30" stroke="#2a2a2a" stroke-width="1.4"/>
<text x="257.70" y="200.50" text-anchor="end" class="tk">40</text>
<path d="M262.30 301.50 V304.90" stroke="#2a2a2a" stroke-width="1.4"/>
<text x="262.30" y="313.50" text-anchor="middle" class="tk">0</text>
<path d="M288.30 301.50 V304.90" stroke="#2a2a2a" stroke-width="1.4"/>
<text x="288.30" y="313.50" text-anchor="middle" class="tk">4</text>
<path d="M314.30 301.50 V304.90" stroke="#2a2a2a" stroke-width="1.4"/>
<text x="314.30" y="313.50" text-anchor="middle" class="tk">8</text>
<path d="M340.30 301.50 V304.90" stroke="#2a2a2a" stroke-width="1.4"/>
<text x="340.30" y="313.50" text-anchor="middle" class="tk">12</text>
<path d="M366.30 301.50 V304.90" stroke="#2a2a2a" stroke-width="1.4"/>
<text x="366.30" y="313.50" text-anchor="middle" class="tk">16</text>
<path d="M392.30 301.50 V304.90" stroke="#2a2a2a" stroke-width="1.4"/>
<text x="392.30" y="313.50" text-anchor="middle" class="tk">20</text>
<path d="M418.30 301.50 V304.90" stroke="#2a2a2a" stroke-width="1.4"/>
<text x="418.30" y="313.50" text-anchor="middle" class="tk">24</text>
<text x="340.30" y="323.80" text-anchor="middle" class="tt">Time (h)</text>
<text transform="translate(243.50 249.20) rotate(-90)" text-anchor="middle" class="yl">Blood concentration ( µM)</text>
<text x="227.8" y="178.9" class="pl">e</text>
<polyline points="268.06,301.50 268.16,300.92 268.26,300.23 268.36,299.45 268.47,298.58 268.57,297.63 268.67,296.61 268.77,295.51 268.87,294.36 268.97,293.14 269.08,291.87 269.18,290.55 269.28,289.18 269.38,287.77 269.48,286.33 269.59,284.86 269.69,283.36 269.79,281.83 269.89,280.28 269.99,278.72 270.09,277.14 270.20,275.54 270.30,273.94 270.40,272.33 270.50,270.72 270.60,269.10 270.70,267.48 270.81,265.86 270.91,264.25 271.01,262.64 271.11,261.04 271.21,259.45 271.31,257.87 271.42,256.30 271.52,254.75 271.62,253.20 271.72,251.67 271.82,250.16 271.92,248.67 272.03,247.19 272.13,245.74 272.23,244.30 272.33,242.88 272.43,241.49 272.53,240.11 272.64,238.76 272.74,237.43 272.84,236.12 272.94,234.84 273.04,233.58 273.15,232.34 273.25,231.13 273.35,229.95 273.45,228.78 273.55,227.65 273.65,226.54 273.76,225.45 273.86,224.39 273.96,223.35 274.06,222.34 274.16,221.35 274.26,220.39 274.37,219.46 274.47,218.55 274.57,217.66 274.67,216.80 274.77,215.96 274.87,215.15 274.98,214.36 275.08,213.60 275.18,212.86 275.28,212.15 275.38,211.46 275.48,210.79 275.59,210.14 275.69,209.52 275.79,208.92 275.89,208.34 275.99,207.79 276.09,207.25 276.20,206.74 276.30,206.25 276.40,205.78 276.50,205.33 276.60,204.90 276.70,204.49 276.81,204.10 276.91,203.74 277.01,203.38 277.11,203.05 277.21,202.74 277.32,202.45 277.42,202.17 277.52,201.91 277.62,201.67 277.72,201.45 277.82,201.24 277.93,201.05 278.03,200.87 278.13,200.71 278.23,200.57 278.33,200.44 278.43,200.33 278.54,200.23 278.64,200.15 278.74,200.08 278.84,200.02 278.94,199.98 279.04,199.95 279.15,199.93 279.25,199.93 279.35,199.94 279.45,199.96 279.55,199.99 279.65,200.03 279.76,200.09 279.86,200.15 279.96,200.23 280.06,200.32 280.16,200.42 280.26,200.52 280.37,200.64 280.47,200.77 280.57,200.90 280.67,201.05 280.77,201.20 280.88,201.37 280.98,201.54 281.08,201.72 281.18,201.90 281.28,202.10 281.38,202.30 281.49,202.51 281.59,202.73 281.69,202.95 281.79,203.18 281.89,203.42 281.99,203.66 282.10,203.91 282.20,204.17 282.30,204.43 282.40,204.70 282.50,204.97 282.60,205.25 282.71,205.53 282.81,205.82 282.91,206.11 283.01,206.41 283.11,206.71 283.21,207.01 283.32,207.32 283.42,207.64 283.52,207.95 283.62,208.27 283.72,208.60 283.82,208.93 283.93,209.26 284.03,209.59 284.13,209.93 284.23,210.27 284.33,210.62 284.43,210.96 284.54,211.31 284.64,211.66 284.74,212.02 284.84,212.37 284.94,212.73 285.05,213.09 285.15,213.45 285.25,213.82 285.35,214.18 285.45,214.55 285.55,214.92 285.66,215.29 285.76,215.66 285.86,216.04 285.96,216.41 286.06,216.78 286.16,217.16 286.27,217.54 286.37,217.92 286.47,218.30 286.57,218.68 286.67,219.06 286.77,219.44 286.88,219.82 286.98,220.20 287.08,220.58 287.18,220.97 287.28,221.35 287.38,221.73 287.49,222.11 287.59,222.50 287.69,222.88 287.79,223.27 287.89,223.65 287.99,224.03 288.10,224.42 288.20,224.80 288.30,225.18 288.43,225.67 289.08,228.11 289.74,230.53 290.39,232.91 291.04,235.26 291.69,237.55 292.35,239.80 293.00,241.99 293.65,244.13 294.30,246.21 294.96,248.22 295.61,250.18 296.26,252.08 296.91,253.91 297.57,255.69 298.22,257.41 298.87,259.07 299.52,260.67 300.18,262.21 300.83,263.70 301.48,265.14 302.13,266.52 302.79,267.86 303.44,269.15 304.09,270.38 304.75,271.58 305.40,272.72 306.05,273.83 306.70,274.89 307.36,275.91 308.01,276.90 308.66,277.84 309.31,278.76 309.97,279.63 310.62,280.47 311.27,281.28 311.92,282.06 312.58,282.81 313.23,283.53 313.88,284.23 314.53,284.89 315.19,285.54 315.84,286.15 316.49,286.74 317.14,287.31 317.80,287.86 318.45,288.39 319.10,288.90 319.76,289.38 320.41,289.85 321.06,290.30 321.71,290.73 322.37,291.15 323.02,291.55 323.67,291.93 324.32,292.30 324.98,292.66 325.63,293.00 326.28,293.33 326.93,293.64 327.59,293.95 328.24,294.24 328.89,294.52 329.54,294.79 330.20,295.05 330.85,295.30 331.50,295.54 332.16,295.77 332.81,295.99 333.46,296.20 334.11,296.41 334.77,296.60 335.42,296.79 336.07,296.97 336.72,297.15 337.38,297.32 338.03,297.48 338.68,297.63 339.33,297.78 339.99,297.93 340.64,298.07 341.29,298.20 341.94,298.33 342.60,298.45 343.25,298.57 343.90,298.68 344.55,298.79 345.21,298.89 345.86,298.99 346.51,299.09 347.17,299.18 347.82,299.27 348.47,299.36 349.12,299.44 349.78,299.52 350.43,299.60 351.08,299.67 351.73,299.74 352.39,299.81 353.04,299.88 353.69,299.94 354.34,300.00 355.00,300.06 355.65,300.11 356.30,300.17 356.95,300.22 357.61,300.27 358.26,300.31 358.91,300.36 359.56,300.40 360.22,300.45 360.87,300.49 361.52,300.53 362.18,300.56 362.83,300.60 363.48,300.64 364.13,300.67 364.79,300.70 365.44,300.73 366.09,300.76 366.74,300.79 367.40,300.82 368.05,300.84 368.70,300.87 369.35,300.89 370.01,300.92 370.66,300.94 371.31,300.96 371.96,300.98 372.62,301.00 373.27,301.02 373.92,301.04 374.57,301.06 375.23,301.07 375.88,301.09 376.53,301.11 377.19,301.12 377.84,301.14 378.49,301.15 379.14,301.16 379.80,301.18 380.45,301.19 381.10,301.20 381.75,301.21 382.41,301.22 383.06,301.23 383.71,301.25 384.36,301.25 385.02,301.26 385.67,301.27 386.32,301.28 386.97,301.29 387.63,301.30 388.28,301.31 388.93,301.31 389.59,301.32 390.24,301.33 390.89,301.33 391.54,301.34 392.20,301.35 392.85,301.35 393.50,301.36 394.15,301.36 394.81,301.37 395.46,301.37 396.11,301.38 396.76,301.38 397.42,301.39 398.07,301.39 398.72,301.40 399.37,301.40 400.03,301.40 400.68,301.41 401.33,301.41 401.98,301.42 402.64,301.42 403.29,301.42 403.94,301.42 404.60,301.43 405.25,301.43 405.90,301.43 406.55,301.44 407.21,301.44 407.86,301.44 408.51,301.44 409.16,301.45 409.82,301.45 410.47,301.45 411.12,301.45 411.77,301.45 412.43,301.45 413.08,301.46 413.73,301.46 414.38,301.46 415.04,301.46 415.69,301.46 416.34,301.46 416.99,301.47 417.65,301.47 418.30,301.47" fill="none" stroke="#111" stroke-width="1.15" stroke-linejoin="round"/>
<polyline points="267.88,301.50 267.98,301.33 268.09,301.10 268.19,300.83 268.29,300.51 268.39,300.15 268.50,299.75 268.60,299.31 268.70,298.84 268.80,298.34 268.91,297.80 269.01,297.25 269.11,296.66 269.21,296.06 269.32,295.43 269.42,294.78 269.52,294.12 269.63,293.44 269.73,292.75 269.83,292.05 269.93,291.33 270.04,290.61 270.14,289.88 270.24,289.14 270.34,288.40 270.45,287.65 270.55,286.90 270.65,286.14 270.75,285.39 270.86,284.63 270.96,283.88 271.06,283.12 271.16,282.37 271.27,281.62 271.37,280.88 271.47,280.13 271.57,279.40 271.68,278.67 271.78,277.94 271.88,277.22 271.99,276.51 272.09,275.80 272.19,275.11 272.29,274.42 272.40,273.74 272.50,273.06 272.60,272.40 272.70,271.75 272.81,271.10 272.91,270.47 273.01,269.84 273.11,269.23 273.22,268.63 273.32,268.03 273.42,267.45 273.52,266.88 273.63,266.32 273.73,265.77 273.83,265.23 273.93,264.70 274.04,264.18 274.14,263.68 274.24,263.18 274.35,262.70 274.45,262.23 274.55,261.77 274.65,261.32 274.76,260.88 274.86,260.45 274.96,260.04 275.06,259.63 275.17,259.24 275.27,258.86 275.37,258.49 275.47,258.13 275.58,257.78 275.68,257.44 275.78,257.11 275.88,256.79 275.99,256.48 276.09,256.19 276.19,255.90 276.29,255.62 276.40,255.36 276.50,255.10 276.60,254.85 276.71,254.61 276.81,254.39 276.91,254.17 277.01,253.96 277.12,253.76 277.22,253.57 277.32,253.39 277.42,253.21 277.53,253.05 277.63,252.89 277.73,252.75 277.83,252.61 277.94,252.48 278.04,252.35 278.14,252.24 278.24,252.13 278.35,252.03 278.45,251.94 278.55,251.86 278.65,251.78 278.76,251.71 278.86,251.64 278.96,251.59 279.07,251.54 279.17,251.50 279.27,251.46 279.37,251.43 279.48,251.41 279.58,251.39 279.68,251.38 279.78,251.37 279.89,251.37 279.99,251.38 280.09,251.39 280.19,251.40 280.30,251.43 280.40,251.45 280.50,251.49 280.60,251.52 280.71,251.56 280.81,251.61 280.91,251.66 281.01,251.72 281.12,251.78 281.22,251.84 281.32,251.91 281.43,251.98 281.53,252.06 281.63,252.14 281.73,252.23 281.84,252.32 281.94,252.41 282.04,252.50 282.14,252.60 282.25,252.70 282.35,252.81 282.45,252.92 282.55,253.03 282.66,253.15 282.76,253.26 282.86,253.38 282.96,253.51 283.07,253.63 283.17,253.76 283.27,253.89 283.37,254.03 283.48,254.16 283.58,254.30 283.68,254.44 283.79,254.58 283.89,254.73 283.99,254.88 284.09,255.02 284.20,255.18 284.30,255.33 284.40,255.48 284.50,255.64 284.61,255.80 284.71,255.95 284.81,256.12 284.91,256.28 285.02,256.44 285.12,256.61 285.22,256.77 285.32,256.94 285.43,257.11 285.53,257.28 285.63,257.45 285.73,257.62 285.84,257.79 285.94,257.97 286.04,258.14 286.15,258.32 286.25,258.50 286.35,258.67 286.45,258.85 286.56,259.03 286.66,259.21 286.76,259.39 286.86,259.57 286.97,259.75 287.07,259.93 287.17,260.12 287.27,260.30 287.38,260.48 287.48,260.67 287.58,260.85 287.68,261.03 287.79,261.22 287.89,261.40 287.99,261.59 288.09,261.77 288.20,261.96 288.30,262.14 288.43,262.38 289.08,263.56 289.74,264.73 290.39,265.90 291.04,267.06 291.69,268.20 292.35,269.32 293.00,270.42 293.65,271.49 294.30,272.54 294.96,273.56 295.61,274.56 296.26,275.53 296.91,276.47 297.57,277.38 298.22,278.26 298.87,279.12 299.52,279.95 300.18,280.75 300.83,281.52 301.48,282.27 302.13,282.99 302.79,283.68 303.44,284.35 304.09,285.00 304.75,285.62 305.40,286.23 306.05,286.81 306.70,287.36 307.36,287.90 308.01,288.42 308.66,288.92 309.31,289.40 309.97,289.86 310.62,290.30 311.27,290.73 311.92,291.14 312.58,291.54 313.23,291.92 313.88,292.28 314.53,292.64 315.19,292.98 315.84,293.30 316.49,293.62 317.14,293.92 317.80,294.21 318.45,294.49 319.10,294.76 319.76,295.02 320.41,295.26 321.06,295.50 321.71,295.73 322.37,295.95 323.02,296.17 323.67,296.37 324.32,296.57 324.98,296.76 325.63,296.94 326.28,297.11 326.93,297.28 327.59,297.44 328.24,297.60 328.89,297.75 329.54,297.89 330.20,298.03 330.85,298.16 331.50,298.29 332.16,298.42 332.81,298.53 333.46,298.65 334.11,298.76 334.77,298.86 335.42,298.96 336.07,299.06 336.72,299.15 337.38,299.24 338.03,299.33 338.68,299.41 339.33,299.49 339.99,299.57 340.64,299.64 341.29,299.72 341.94,299.78 342.60,299.85 343.25,299.91 343.90,299.97 344.55,300.03 345.21,300.09 345.86,300.14 346.51,300.20 347.17,300.25 347.82,300.29 348.47,300.34 349.12,300.38 349.78,300.43 350.43,300.47 351.08,300.51 351.73,300.55 352.39,300.58 353.04,300.62 353.69,300.65 354.34,300.68 355.00,300.72 355.65,300.75 356.30,300.77 356.95,300.80 357.61,300.83 358.26,300.85 358.91,300.88 359.56,300.90 360.22,300.93 360.87,300.95 361.52,300.97 362.18,300.99 362.83,301.01 363.48,301.03 364.13,301.05 364.79,301.06 365.44,301.08 366.09,301.10 366.74,301.11 367.40,301.13 368.05,301.14 368.70,301.15 369.35,301.17 370.01,301.18 370.66,301.19 371.31,301.20 371.96,301.22 372.62,301.23 373.27,301.24 373.92,301.25 374.57,301.26 375.23,301.27 375.88,301.28 376.53,301.28 377.19,301.29 377.84,301.30 378.49,301.31 379.14,301.32 379.80,301.32 380.45,301.33 381.10,301.34 381.75,301.34 382.41,301.35 383.06,301.35 383.71,301.36 384.36,301.37 385.02,301.37 385.67,301.38 386.32,301.38 386.97,301.38 387.63,301.39 388.28,301.39 388.93,301.40 389.59,301.40 390.24,301.41 390.89,301.41 391.54,301.41 392.20,301.42 392.85,301.42 393.50,301.42 394.15,301.42 394.81,301.43 395.46,301.43 396.11,301.43 396.76,301.44 397.42,301.44 398.07,301.44 398.72,301.44 399.37,301.45 400.03,301.45 400.68,301.45 401.33,301.45 401.98,301.45 402.64,301.45 403.29,301.46 403.94,301.46 404.60,301.46 405.25,301.46 405.90,301.46 406.55,301.46 407.21,301.47 407.86,301.47 408.51,301.47 409.16,301.47 409.82,301.47 410.47,301.47 411.12,301.47 411.77,301.47 412.43,301.47 413.08,301.48 413.73,301.48 414.38,301.48 415.04,301.48 415.69,301.48 416.34,301.48 416.99,301.48 417.65,301.48 418.30,301.48" fill="none" stroke="#2626ff" stroke-width="1.15" stroke-linejoin="round"/>
<rect x="260.80" y="298.17" width="3" height="3" fill="#000"/>
<rect x="267.30" y="292.94" width="3" height="3" fill="#000"/>
<rect x="273.80" y="279.08" width="3" height="3" fill="#000"/>
<rect x="280.30" y="254.63" width="3" height="3" fill="#000"/>
<rect x="286.80" y="246.39" width="3" height="3" fill="#000"/>
<rect x="293.30" y="257.77" width="3" height="3" fill="#000"/>
<rect x="299.80" y="268.62" width="3" height="3" fill="#000"/>
<rect x="312.80" y="282.27" width="3" height="3" fill="#000"/>
<rect x="325.80" y="292.02" width="3" height="3" fill="#000"/>
<rect x="338.80" y="293.07" width="3" height="3" fill="#000"/>
<rect x="299.00" y="193.90" width="3.2" height="3.2" fill="#000"/>
<text x="312.8" y="198.8" class="lge">200 mg/kg (Ghosh et al, 2006)</text>
<path d="M297.1 206.8 H308.7" stroke="#3a3a3a" stroke-width="1.35"/>
<text x="315" y="209" class="lge">Prediction ( <tspan font-style="italic">CL</tspan><tspan class="sub" dy="1.6">app</tspan><tspan dy="-1.6"> = 7.69 L/h/kg,  </tspan><tspan font-style="italic">f</tspan><tspan class="sub" dy="1.6">a</tspan><tspan dy="-1.6"> = 1)</tspan></text>
<path d="M297.1 218.4 H308.7" stroke="#2626ff" stroke-width="1.35"/>
<text x="315" y="220.8" class="lge">Prediction ( <tspan font-style="italic">CL</tspan><tspan class="sub" dy="1.6">app</tspan><tspan dy="-1.6"> = 7.69 L/h/kg,  </tspan><tspan font-style="italic">f</tspan><tspan class="sub" dy="1.6">a</tspan><tspan dy="-1.6"> = 0.45)</tspan></text>
</svg>
</body></html>
